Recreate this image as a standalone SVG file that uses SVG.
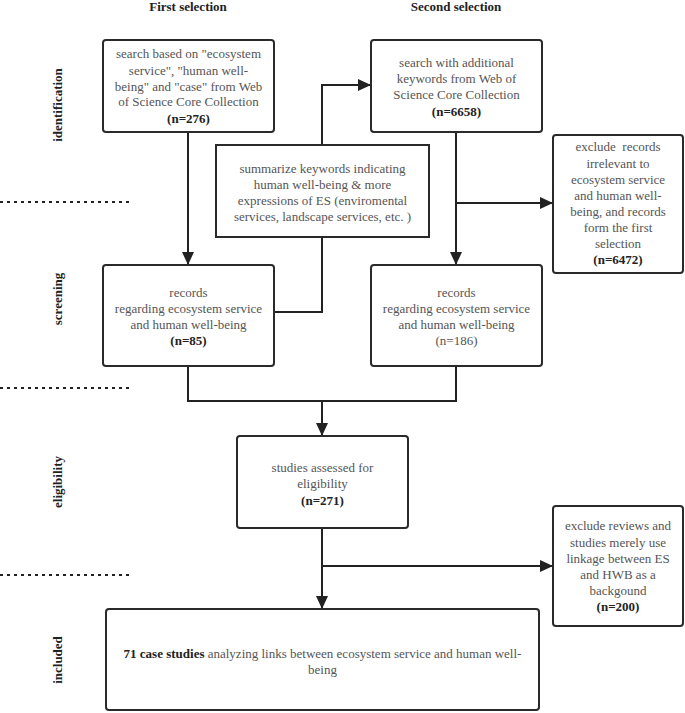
<svg xmlns="http://www.w3.org/2000/svg" width="685" height="713" viewBox="0 0 685 713" font-family="Liberation Serif, Times New Roman, serif" font-size="13">
<style>
text{fill:#555;text-anchor:middle}
.b{font-weight:bold;fill:#222}
.lab{font-weight:bold;fill:#222}
.box{fill:#fff;stroke:#2a2a2a;stroke-width:2}
.con{fill:none;stroke:#222;stroke-width:2}
.dot{stroke:#222;stroke-width:2;stroke-dasharray:3 4}
</style>
<defs>
<marker id="ah" markerUnits="userSpaceOnUse" markerWidth="14" markerHeight="12" refX="13" refY="6" orient="auto">
<path d="M0,0 L13,6 L0,12 Z" fill="#222"/>
</marker>
</defs>
<g id="headers">
<text class="lab" x="188" y="11">First selection</text>
<text class="lab" x="456" y="11">Second selection</text>
<text class="lab" transform="translate(62,105) rotate(-90)">identification</text>
<text class="lab" transform="translate(62,299) rotate(-90)">screening</text>
<text class="lab" transform="translate(62,482) rotate(-90)">eligibility</text>
<text class="lab" transform="translate(62,660) rotate(-90)">included</text>
<line class="dot" x1="0" y1="202" x2="129" y2="202"/>
<line class="dot" x1="0" y1="388" x2="129" y2="388"/>
<line class="dot" x1="0" y1="575" x2="129" y2="575"/>
</g>
<g id="connectors">
<polyline class="con" points="188,132 188,265" marker-end="url(#ah)"/>
<polyline class="con" points="274,312 322,312 322,85 371,85" marker-end="url(#ah)"/>
<polyline class="con" points="456,132 456,265" marker-end="url(#ah)"/>
<polyline class="con" points="456,203 553,203" marker-end="url(#ah)"/>
<polyline class="con" points="188,366 188,401 456,401 456,366"/>
<polyline class="con" points="322,401 322,436" marker-end="url(#ah)"/>
<polyline class="con" points="322,528 322,609" marker-end="url(#ah)"/>
<polyline class="con" points="322,566 553,566" marker-end="url(#ah)"/>
</g>
<g id="search1">
<rect class="box" x="103" y="40" width="171" height="92" rx="3"/>
<text x="188.5" y="58">search based on "ecosystem</text>
<text x="188.5" y="75">service", "human well-</text>
<text x="188.5" y="91">being" and "case" from Web</text>
<text x="188.5" y="106">of Science Core Collection</text>
<text class="b" x="188.5" y="123">(n=276)</text>
</g>
<g id="summarize">
<rect class="box" x="216" y="145" width="213" height="92"/>
<text x="322.5" y="172.5">summarize keywords indicating</text>
<text x="322.5" y="188.5">human well-being &amp; more</text>
<text x="322.5" y="204.5">expressions of ES (enviromental</text>
<text x="322.5" y="220.5">services, landscape services, etc. )</text>
</g>
<g id="search2">
<rect class="box" x="371" y="40" width="171" height="92" rx="3"/>
<text x="456.5" y="66.5">search with additional</text>
<text x="456.5" y="83">keywords from Web of</text>
<text x="456.5" y="99">Science Core Collection</text>
<text class="b" x="456.5" y="115.5">(n=6658)</text>
</g>
<g id="exclude1">
<rect class="box" x="553" y="135" width="130" height="138" rx="3"/>
<text x="618" y="151" xml:space="preserve">exclude  records</text>
<text x="618" y="167.5">irrelevant to</text>
<text x="618" y="183.5">ecosystem service</text>
<text x="618" y="199.5">and human well-</text>
<text x="618" y="215.5">being, and records</text>
<text x="618" y="231.5">form the first</text>
<text x="618" y="247.5">selection</text>
<text class="b" x="618" y="263.5">(n=6472)</text>
</g>
<g id="records1">
<rect class="box" x="103" y="265" width="171" height="101" rx="3"/>
<text x="188.5" y="296.5">records</text>
<text x="188.5" y="312.5">regarding ecosystem service</text>
<text x="188.5" y="328.5">and human well-being</text>
<text class="b" x="188.5" y="345">(n=85)</text>
</g>
<g id="records2">
<rect class="box" x="371" y="265" width="171" height="101" rx="3"/>
<text x="456.5" y="296.5">records</text>
<text x="456.5" y="312.5">regarding ecosystem service</text>
<text x="456.5" y="328.5">and human well-being</text>
<text x="456.5" y="345">(n=186)</text>
</g>
<g id="eligibility">
<rect class="box" x="237" y="436" width="171" height="92" rx="3"/>
<text x="322.5" y="472">studies assessed for</text>
<text x="322.5" y="488">eligibility</text>
<text class="b" x="322.5" y="504.5">(n=271)</text>
</g>
<g id="exclude2">
<rect class="box" x="553" y="506" width="130" height="120" rx="3"/>
<text x="618" y="530">exclude reviews and</text>
<text x="618" y="546.5">studies merely use</text>
<text x="618" y="562.5">linkage between ES</text>
<text x="618" y="578.5">and HWB as a</text>
<text x="618" y="594.5">backgound</text>
<text class="b" x="618" y="611">(n=200)</text>
</g>
<g id="included">
<rect class="box" x="106" y="609" width="433" height="101" rx="3"/>
<text x="322.5" y="657.5"><tspan class="b">71 case studies</tspan> analyzing links between ecosystem service and human well-</text>
<text x="322.5" y="673.5">being</text>
</g>
</svg>
